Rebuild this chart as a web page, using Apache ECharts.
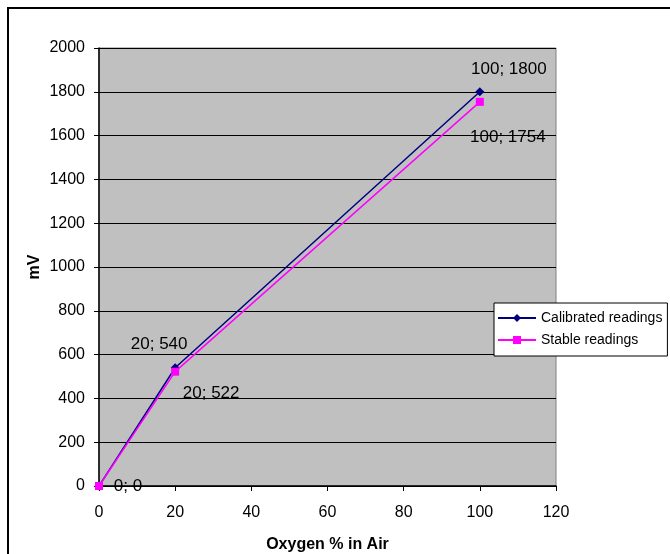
<!DOCTYPE html>
<html>
<head>
<meta charset="utf-8">
<script src="https://cdn.jsdelivr.net/npm/echarts@6/dist/echarts.min.js"></script>
<style>html,body{margin:0;padding:0;background:#fff}#c{width:670px;height:554px}</style>
</head>
<body>
<div id="c"></div>
<script>
const oxygen = [0, 20, 100];
const calibrated = [0, 540, 1800];
const stable = [0, 522, 1754];
const seriesNames = ['Calibrated readings', 'Stable readings'];
const xTitle = 'Oxygen % in Air';
const yTitle = 'mV';

const font = 'Liberation Sans, Arial, sans-serif';
const calOffsets = [[29, 0], [-16, -23], [29, -22]];
const stOffsets = [null, [36, 22], [28, 35]];

function mk(vals, offs) {
  return vals.map((v, i) => ({
    value: [oxygen[i], v],
    label: offs[i] ? { show: true, position: 'inside', offset: offs[i], formatter: oxygen[i] + '; ' + v } : { show: false }
  }));
}

const chart = echarts.init(document.getElementById('c'));
chart.setOption({
  animation: false,
  textStyle: { fontFamily: font },
  graphic: [{ type: 'rect', shape: { x: 8, y: 8, width: 700, height: 600 }, style: { fill: 'none', stroke: '#000', lineWidth: 2 }, z: 100 }],
  grid: { left: 99, right: 114, top: 48, bottom: 68, outerBoundsMode: 'none', containLabel: false, show: true, backgroundColor: '#C0C0C0', borderColor: '#808080', borderWidth: 1 },
  legend: {
    orient: 'vertical', left: 494, top: 303, backgroundColor: '#fff', borderColor: '#000', borderWidth: 1,
    padding: [8, 5, 9, 3], itemGap: 8, itemWidth: 38, itemHeight: 10,
    textStyle: { fontFamily: font, fontSize: 14, color: '#000' },
    data: seriesNames
  },
  xAxis: {
    type: 'value', min: 0, max: 120, interval: 20,
    name: xTitle, nameLocation: 'middle', nameGap: 51,
    nameTextStyle: { fontFamily: font, fontSize: 16, fontWeight: 'bold', color: '#000' },
    axisLine: { show: true, lineStyle: { color: '#000', width: 1.5 } },
    axisTick: { show: true, inside: false, length: 5, lineStyle: { color: '#000' } },
    axisLabel: { fontFamily: font, fontSize: 16, color: '#000', margin: 19 },
    splitLine: { show: false }
  },
  yAxis: {
    type: 'value', min: 0, max: 2000, interval: 200,
    name: yTitle, nameLocation: 'middle', nameGap: 56, nameRotate: 90, nameMoveOverlap: false,
    nameTextStyle: { fontFamily: font, fontSize: 16, fontWeight: 'bold', color: '#000' },
    axisLine: { show: true, lineStyle: { color: '#000', width: 1.5 } },
    axisTick: { show: true, inside: false, length: 5, lineStyle: { color: '#000' } },
    axisLabel: { fontFamily: font, fontSize: 16, color: '#000', margin: 14, formatter: v => String(v) },
    splitLine: { show: true, lineStyle: { color: '#000', width: 1 } }
  },
  series: [
    {
      name: seriesNames[0], type: 'line', data: mk(calibrated, calOffsets),
      symbol: 'diamond', symbolSize: 9,
      lineStyle: { color: '#000080', width: 1.5 }, itemStyle: { color: '#000080' },
      label: { fontFamily: font, fontSize: 17, color: '#000' }, z: 3
    },
    {
      name: seriesNames[1], type: 'line', data: mk(stable, stOffsets),
      symbol: 'rect', symbolSize: 8,
      lineStyle: { color: '#FF00FF', width: 1.5 }, itemStyle: { color: '#FF00FF' },
      label: { fontFamily: font, fontSize: 17, color: '#000' }, z: 4
    }
  ]
});
</script>
</body>
</html>
